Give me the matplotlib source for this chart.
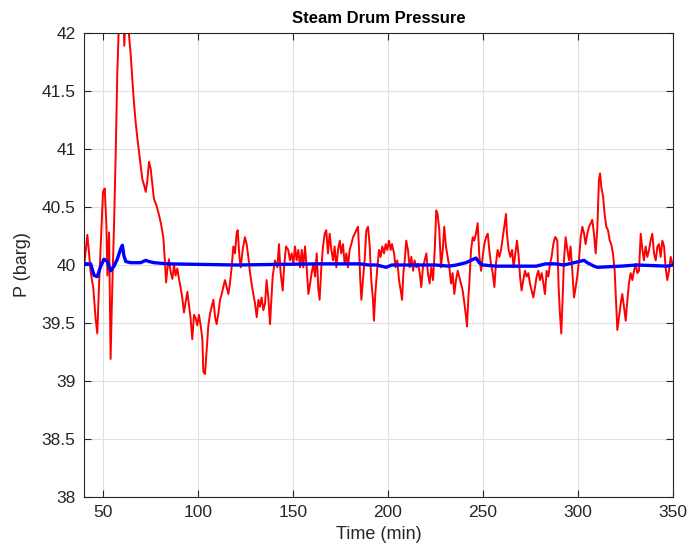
import matplotlib
matplotlib.use("Agg")
import matplotlib.pyplot as plt

red_t = [40, 41.75, 42.6, 43.5, 44.9, 46.1, 47, 47.9, 49.1, 50, 50.9, 51.8, 52.3, 53.2, 54, 54.9,
         55.8, 56.7, 57.5, 58.4, 59.3, 60.5, 61.2, 62.2, 63.0, 63.7, 64.6, 65.4, 66.3, 67.2, 68.1,
         69, 69.8, 70.7, 71.6, 72.5, 73.3, 74.2, 75.1, 76, 76.8, 78.2, 79.5, 80.7, 81.8, 82.5,
         83.2, 83.9, 84.7, 85.6, 86.5, 87.4, 88.2, 89.1, 90, 90.9, 91.8, 92.6, 93.5, 94.4, 95.3,
         96.1, 97, 97.9, 98.8, 99.6, 100.5, 101.4, 102.3, 102.8, 103.7, 105.4, 106.3, 107.2,
         108.1, 109, 109.8, 110.7, 111.6, 112.5, 113.3, 114.2, 115.1, 116, 116.8, 117.7, 118.6,
         119.5, 120.3, 120.9, 121.8, 122.5, 123.5, 124.7, 125.6, 126.5, 127.4, 128.2, 129.1, 130,
         130.9, 131.8, 132.6, 133.5, 134.4, 135.3, 136.1, 137, 137.9, 138.4, 139.3, 140.5, 141.8,
         142.6, 143.5, 144.6, 145.3, 146.3, 147.5, 148.4, 149.3, 150.2, 151.05, 151.9, 152.8,
         153.7, 154.6, 155.4, 156.3, 157.2, 158.1, 159, 159.8, 160.7, 161.6, 162.5, 163.3, 164,
         164.9, 165.8, 166.7, 167.5, 168.4, 169.3, 170.2, 171.1, 171.9, 172.8, 173.7, 174.6,
         175.4, 176.3, 177.2, 178.1, 178.9, 179.8, 180.7, 181.6, 182.5, 183.3, 184.2, 184.7,
         185.4, 186, 186.8, 187.7, 188.6, 189.5, 190.4, 191.2, 192.1, 192.6, 193.3, 194.4,
         195.3, 196.1, 197, 197.9, 198.8, 199.6, 200.5, 201.4, 202.1, 203.2, 204, 204.9, 205.8,
         206.7, 207.4, 208.1, 208.8, 209.6, 210.5, 211.4, 212.3, 213.2, 214, 214.9, 215.8,
         216.7, 217.5, 218.4, 219.3, 220.2, 221, 221.9, 222.8, 223.7, 224.6, 225.4, 226.1, 227,
         227.9, 228.8, 229.6, 230.5, 231.4, 232.3, 233.2, 234, 234.9, 235.8, 236.7, 237.5,
         238.4, 239.3, 240.2, 241.1, 241.6, 242.3, 242.8, 243.7, 244.6, 245.4, 246.3, 247.2,
         248.1, 249, 249.8, 250.7, 251.6, 252.5, 253.3, 254.2, 255.1, 256, 256.8, 257.7, 258.6,
         259.5, 260.4, 261.2, 262.1, 262.6, 263.5, 264.4, 265.3, 266.1, 267, 267.9, 268.8,
         269.5, 270.3, 271.2, 272.1, 273, 273.9, 274.7, 275.6, 276.5, 277.4, 278.2, 279.1, 280,
         280.9, 281.8, 282.6, 283.5, 284.4, 285.3, 286.1, 287, 287.9, 288.2, 289.1, 289.8,
         290.5, 291.2, 292, 292.6, 293.5, 294.4, 295.3, 296.1, 297, 297.9, 298.8, 299.6, 300.5,
         301.4, 302.3, 303.2, 304, 304.9, 305.8, 306.7, 307.5, 308.4, 309.3, 310.2, 311, 311.6,
         312.3, 313.2, 314, 314.9, 315.8, 316.7, 317.5, 318.4, 319.3, 320, 320.7, 321.6, 322.5,
         323.3, 324.2, 325.1, 326, 326.8, 327.7, 328.6, 329.5, 330.4, 331.2, 332.1, 333, 333.9,
         334.7, 335.6, 336.5, 337.4, 338.2, 339.1, 340, 340.9, 341.8, 342.6, 343.5, 344.4,
         345.3, 346.1, 347, 347.9, 348.8, 349.7]
red_p = [39.97, 40.26, 40.11, 39.94, 39.8, 39.54, 39.41, 39.82, 40.28, 40.63, 40.66, 40.34, 39.91,
         40.28, 39.19, 39.82, 40.34, 40.97, 41.64, 42.1, 42.3, 42.3, 41.89, 42.3, 42.2, 41.98,
         41.81, 41.61, 41.4, 41.23, 41.09, 40.97, 40.86, 40.74, 40.69, 40.63, 40.72, 40.89,
         40.83, 40.69, 40.57, 40.51, 40.43, 40.34, 40.23, 40.05, 39.85, 39.97, 40.05, 39.94,
         39.88, 40.0, 39.91, 39.97, 39.88, 39.8, 39.71, 39.59, 39.68, 39.77, 39.65, 39.54, 39.36,
         39.57, 39.54, 39.48, 39.57, 39.48, 39.36, 39.08, 39.06, 39.47, 39.58, 39.64, 39.7,
         39.55, 39.49, 39.58, 39.7, 39.75, 39.81, 39.87, 39.81, 39.75, 39.84, 39.98, 40.16,
         40.1, 40.27, 40.3, 40.07, 39.98, 40.13, 40.24, 40.18, 40.07, 39.93, 39.84, 39.75,
         39.67, 39.55, 39.7, 39.64, 39.72, 39.61, 39.67, 39.87, 39.72, 39.49, 39.64, 39.9,
         40.04, 39.98, 40.18, 39.93, 39.78, 39.98, 40.16, 40.13, 40.04, 40.1, 40.01, 40.16,
         40.04, 40.13, 39.98, 40.13, 39.98, 40.16, 39.98, 39.75, 39.84, 39.93, 40.01, 39.9,
         40.1, 39.8, 39.7, 39.98, 40.16, 40.27, 40.3, 40.1, 40.27, 40.13, 40.04, 40.16, 39.98,
         40.13, 40.21, 40.1, 40.18, 40.01, 40.1, 39.98, 40.13, 40.18, 40.24, 40.27, 40.3,
         40.33, 40.16, 39.87, 39.7, 39.87, 40.04, 40.3, 40.33, 40.16, 39.87, 39.7, 39.52, 39.75,
         39.98, 40.13, 40.07, 40.16, 40.1, 40.18, 40.13, 40.21, 40.13, 40.18, 40.1, 39.98,
         40.04, 39.87, 39.78, 39.7, 39.93, 40.04, 40.21, 40.13, 39.98, 40.07, 39.95, 40.04,
         39.98, 40.01, 39.93, 39.81, 39.98, 40.04, 40.1, 39.93, 39.84, 39.98, 39.87, 40.13,
         40.47, 40.44, 40.3, 39.98, 40.13, 40.33, 40.16, 40.07, 39.98, 39.84, 39.93, 39.75,
         39.87, 39.95, 39.9, 39.84, 39.78, 39.67, 39.55, 39.47, 39.72, 39.84, 40.13, 40.24,
         40.21, 40.27, 40.36, 40.07, 39.95, 40.07, 40.18, 40.24, 40.27, 40.13, 40.01, 39.93,
         39.81, 40.01, 40.13, 40.07, 40.13, 40.24, 40.33, 40.44, 40.27, 40.13, 40.07, 40.13,
         39.98, 40.1, 40.21, 40.07, 39.9, 39.78, 39.87, 39.95, 39.9, 39.93, 39.84, 39.78,
         39.72, 39.81, 39.9, 39.95, 39.87, 39.93, 39.84, 39.75, 39.95, 39.9, 40.01, 40.07,
         40.18, 40.24, 40.24, 40.21, 39.81, 39.58, 39.41, 39.75, 40.04, 40.24, 40.13, 40.04,
         40.16, 39.95, 39.72, 39.81, 39.9, 40.04, 40.24, 40.33, 40.27, 40.18, 40.27, 40.33,
         40.36, 40.39, 40.27, 40.1, 40.33, 40.73, 40.79, 40.67, 40.59, 40.44, 40.33, 40.3,
         40.21, 40.18, 40.1, 39.95, 39.7, 39.44, 39.55, 39.67, 39.75, 39.64, 39.52, 39.7, 39.84,
         39.93, 39.87, 39.95, 40.01, 39.93, 39.95, 40.27, 40.13, 40.04, 40.16, 40.07, 40.13,
         40.21, 40.27, 40.1, 40.04, 40.16, 40.18, 40.07, 40.21, 40.16, 39.98, 39.87, 39.95,
         40.07, 40.01]

# Blue trace (setpoint-tracking / model pressure)
blue_t = [40, 43.5, 45.3, 47, 48.8, 50.5, 52.3, 54, 55.8, 57.5, 59.3, 60.2, 61, 62, 64.6, 66.3,
          69.8, 72.5, 74.2, 76.8, 83.9, 120, 163, 185, 190, 194, 199, 202, 225, 232, 236, 241,
          246.3, 248, 250, 257, 278, 283, 288, 292.6, 297.9, 303.2, 304.9, 308.4, 310.2,
          322.5, 331, 347, 350]
blue_p = [40.01, 40.01, 39.91, 39.9, 39.99, 40.05, 40.03, 39.95, 39.99, 40.05, 40.14, 40.17,
          40.08, 40.03, 40.02, 40.02, 40.02, 40.04, 40.03, 40.02, 40.01, 40.0, 40.01, 40.01,
          40.0, 40.0, 39.98, 40.0, 40.0, 39.99, 40.0, 40.02, 40.06, 40.02, 40.0, 39.99, 39.99,
          40.01, 40.01, 40.0, 40.02, 40.04, 40.02, 39.99, 39.98, 39.99, 40.0, 39.99, 40.0]

x_ticks = [50, 100, 150, 200, 250, 300, 350]
y_ticks = [38, 38.5, 39, 39.5, 40, 40.5, 41, 41.5, 42]
y_labels = ["38", "38.5", "39", "39.5", "40", "40.5", "41", "41.5", "42"]

plt.rcParams['font.family'] = ['Liberation Sans', 'DejaVu Sans']

fig = plt.figure(figsize=(6.9, 5.55), dpi=100)
ax = fig.add_axes([84 / 690, 1 - 497 / 555, (673 - 84) / 690, (497 - 33) / 555])

ax.plot(red_t, red_p, color=(1, 0, 0), linewidth=1.4, zorder=2)
ax.plot(blue_t, blue_p, color=(0, 0, 1), linewidth=2.4, zorder=3)

ax.set_xlim(40, 350)
ax.set_ylim(38, 42)
ax.set_xticks(x_ticks)
ax.set_yticks(y_ticks)
ax.set_yticklabels(y_labels)

ax.grid(True, color=(0.88, 0.88, 0.88), linewidth=0.8)
ax.set_axisbelow(True)

tc = (0.15, 0.15, 0.15)
for s in ax.spines.values():
    s.set_color(tc)
    s.set_linewidth(0.8)
ax.tick_params(direction='in', top=True, right=True, length=5, width=0.8,
               colors=tc, labelsize=12.5, pad=6)

ax.set_title("Steam Drum Pressure", fontsize=12, fontweight='bold', color='black', pad=7)
ax.set_xlabel("Time (min)", fontsize=13, color=tc, labelpad=4)
ax.set_ylabel("P (barg)", fontsize=13, color=tc, labelpad=8)

fig.savefig("out.png", dpi=100)
